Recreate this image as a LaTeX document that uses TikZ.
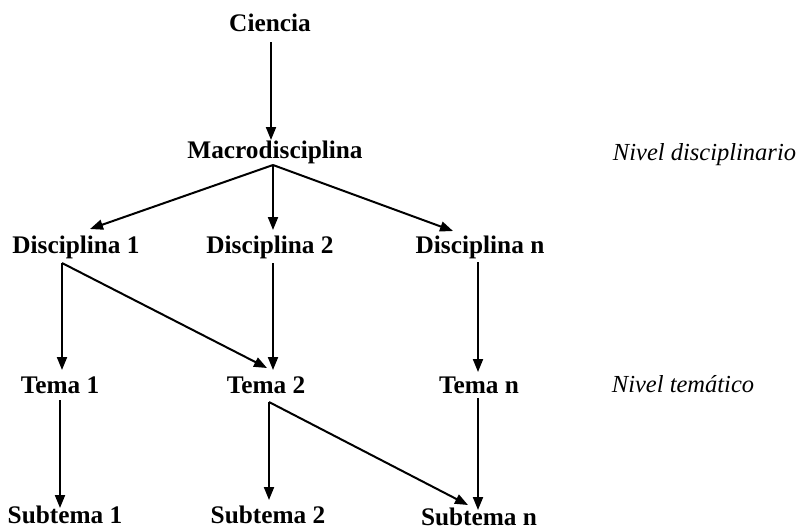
\documentclass[tikz,border=0pt]{standalone}
\usepackage{fontspec}
\setmainfont{Liberation Serif}
\usetikzlibrary{arrows.meta,calc}
\tikzset{
  lbl/.style={anchor=base,inner sep=0pt,font=\fontsize{25.3}{28}\selectfont\bfseries},
  lvl/.style={anchor=base,inner sep=0pt,font=\fontsize{24.5}{28}\selectfont\itshape},
  arr/.style={line width=2pt,-{Triangle[length=13pt,width=10pt]}},
}
\begin{document}
\begin{tikzpicture}[x=1pt,y=-1pt]
\useasboundingbox (0,0) rectangle (799,530);
\node[lbl] (c) at (270,31) {Ciencia};
\node[lbl] (m) at (275,158) {Macrodisciplina};
\node[lbl] (d1) at (76,253) {Disciplina 1};
\node[lbl] (d2) at (270,253) {Disciplina 2};
\node[lbl] (dn) at (480,253) {Disciplina n};
\node[lbl] (t1) at (60,393) {Tema 1};
\node[lbl] (t2) at (266,393) {Tema 2};
\node[lbl] (tn) at (479,393) {Tema n};
\node[lbl] (s1) at (65,523) {Subtema 1};
\node[lbl] (s2) at (268,523) {Subtema 2};
\node[lbl] (sn) at (479,525) {Subtema n};
\node[lvl] (l1) at (704.5,160) {Nivel disciplinario};
\node[lvl] (l2) at (683,392) {Nivel temático};

\draw[arr] ($(c.base)+(1,11)$) -- ($(m.base)+(-4,-18)$);
\draw[arr] ($(m.base)+(-2,7)$) -- ($(d1.base)+(14,-24)$);
\draw[arr] ($(m.base)+(-2,7)$) -- ($(d2.base)+(3,-23)$);
\draw[arr] ($(m.base)+(-2,7)$) -- ($(dn.base)+(-27,-22)$);
\draw[arr] ($(d1.base)+(-14,10)$) -- ($(t1.base)+(2,-23)$);
\draw[arr] ($(d1.base)+(-14,10)$) -- ($(t2.base)+(1,-25)$);
\draw[arr] ($(d2.base)+(3,10)$) -- ($(t2.base)+(7,-23)$);
\draw[arr] ($(dn.base)+(-2,9)$) -- ($(tn.base)+(-1,-21)$);
\draw[arr] ($(t1.base)+(0,7)$) -- ($(s1.base)+(-5,-15)$);
\draw[arr] ($(t2.base)+(3,9)$) -- ($(s2.base)+(1,-23)$);
\draw[arr] ($(t2.base)+(3,9)$) -- ($(sn.base)+(-11,-20)$);
\draw[arr] ($(tn.base)+(-1,5)$) -- ($(sn.base)+(-1,-15)$);
\end{tikzpicture}
\end{document}
